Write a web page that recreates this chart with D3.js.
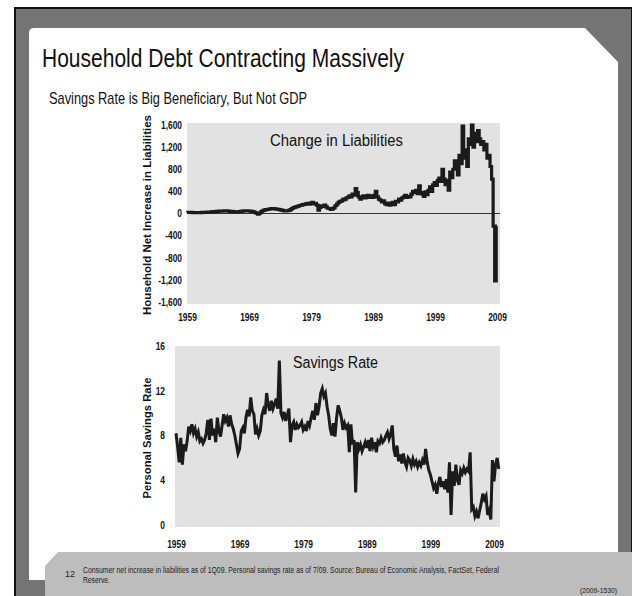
<!DOCTYPE html>
<html>
<head>
<meta charset="utf-8">
<script src="https://cdn.jsdelivr.net/npm/d3@7"></script>
<style>
  body { margin: 0; background: #fff; }
  svg { display: block; }
  text { font-family: "Liberation Sans Narrow", "Arial Narrow", "Liberation Sans", Arial, sans-serif; }
</style>
</head>
<body>
<svg id="chart" width="636" height="596"></svg>
<script>
// Quarterly household net increase in liabilities ($bn), 1959Q1 .. 2009Q1
const liabilities = [
  18, 20, 22, 19,   17, 16, 18, 15,   14, 16, 19, 21,   22, 24, 25, 27,   // 1959-62
  30, 34, 36, 38,   40, 42, 41, 44,   46, 45, 48, 44,   40, 38, 33, 30,   // 1963-66
  28, 30, 36, 40,   44, 46, 48, 47,   45, 43, 38, 30,   20, 8, -10, 5,    // 1967-70
  30, 50, 62, 70,   72, 80, 85, 88,   90, 84, 80, 75,   70, 62, 55, 48,   // 1971-74
  45, 50, 58, 70,   90, 105, 115, 125, 135, 145, 150, 160, 165, 175, 185, 170, // 1975-78
  190, 200, 175, 185, 150, 60, 110, 140, 130, 150, 120, 95, 90, 75, 85, 100,   // 1979-82
  140, 170, 200, 220, 230, 260, 250, 280, 290, 320, 300, 350, 330, 450, 380, 300, // 1983-86
  260, 300, 320, 280, 300, 330, 290, 320, 290, 330, 400, 300, 260, 240, 210, 230, // 1987-90
  180, 160, 190, 150, 170, 200, 160, 220, 210, 260, 240, 280, 300, 330, 290, 310, // 1991-94
  300, 350, 400, 380, 420, 360, 500, 380, 350, 310, 390, 340, 420, 480, 400, 520, // 1995-98
  560, 510, 600, 640, 580, 800, 620, 520, 600, 420, 750, 650, 800, 950, 880, 700, // 1999-02
  1050, 900, 1580, 1000, 1150, 850, 1350, 1250, 1600, 1200, 1450, 1300, 1500, 1350, 1250, 1300, // 2003-06
  1150, 1250, 1000, 1050, 850, 620, -230, -1220, // 2007-08
  -230 // 2009Q1
];

// Quarterly personal savings rate (%), 1959Q1 .. 2009Q4
const savingsRate = [
  8.2, 7.0, 5.6, 7.8,   5.4, 7.2, 6.6, 7.5,   8.8, 8.4, 9.0, 8.2,   8.6, 7.9, 8.3, 7.5,   // 1959-62
  7.7, 7.3, 7.6, 8.2,   9.4, 7.6, 9.5, 8.0,   8.6, 7.4, 9.6, 8.4,   7.9, 8.9, 9.9, 9.3,   // 1963-66
  9.6, 8.8, 9.8, 9.0,   8.6, 8.0, 7.2, 6.4,   6.8, 8.4, 8.7, 8.2,   9.6, 10.3, 9.7, 11.4, // 1967-70
  10.2, 9.9, 8.1, 8.6,  8.0, 8.4, 9.8, 10.3,  9.9, 11.8, 10.7, 10.2, 11.1, 10.4, 10.8, 11.3, // 1971-74
  10.4, 14.7, 10.0, 9.6, 10.1, 9.3, 9.8, 10.4, 7.4, 8.9, 9.2, 8.5,   9.0, 8.7, 8.9, 9.2,   // 1975-78
  8.5, 8.8, 8.4, 9.3,   8.9, 9.6, 10.2, 9.4,  10.9, 9.8, 10.6, 11.8, 12.2, 11.5, 11.8, 10.6, // 1979-82
  9.8, 8.6, 8.0, 9.1,   7.9, 9.6, 10.7, 10.2, 9.6, 8.5, 9.1, 8.7,   8.9, 6.5, 9.0, 7.2,   // 1983-86
  7.6, 2.9, 7.4, 6.8,   7.2, 6.6, 7.0, 7.4,   6.9, 7.6, 6.6, 7.8,   7.0, 7.4, 6.5, 7.5,   // 1987-90
  7.3, 7.8, 7.4, 7.6,   8.0, 8.3, 7.7, 8.1,   8.9, 6.8, 6.1, 7.1,   5.7, 6.3, 5.5, 6.4,   // 1991-94
  5.6, 5.2, 6.0, 5.8,   5.3, 5.9, 5.4, 5.7,   5.2, 5.6, 5.3, 5.8,   5.4, 6.8, 5.6, 4.9,   // 1995-98
  4.5, 3.9, 3.3, 3.6,   2.8, 3.7, 4.3, 3.4,   3.9, 3.2, 4.1, 2.9,   5.6, 0.9, 4.8, 3.5,   // 1999-02
  5.4, 4.0, 3.6, 4.9,   4.6, 5.1, 4.7, 5.0,   4.8, 6.5, 1.4, 1.6,   0.8, 1.2, 0.6, 1.3,   // 2003-06
  2.0, 2.8, 2.3, 2.6,   0.9, 1.3, 0.5, 5.8,   3.9, 5.4, 6.0, 5.0                          // 2007-09
];

const yearTicks = [1959, 1969, 1979, 1989, 1999, 2009];
const liabTicks = [-1600, -1200, -800, -400, 0, 400, 800, 1200, 1600];
const savingsTicks = [0, 4, 8, 12, 16];
const startYear = 1959;

const svg = d3.select('#chart');

// Slide frame
svg.append('rect').attr('x', 14).attr('y', 7).attr('width', 618).attr('height', 589).attr('fill', '#111');
svg.append('rect').attr('x', 16).attr('y', 9).attr('width', 615).attr('height', 587).attr('fill', '#747474');
svg.append('path')
  .attr('d', 'M29,33 Q29,28 34,28 L585,28 L618,62 L618,580 L29,580 Z')
  .attr('fill', '#fff');
svg.append('path')
  .attr('d', 'M45,566 L58,552 L632,552 L632,596 L45,596 Z')
  .attr('fill', '#bdbdbd');

// Titles
svg.append('text')
  .attr('x', 42).attr('y', 67)
  .attr('textLength', 362).attr('lengthAdjust', 'spacingAndGlyphs')
  .style('font-size', '25px').style('fill', '#111')
  .text('Household Debt Contracting Massively');
svg.append('text')
  .attr('x', 49).attr('y', 104)
  .attr('textLength', 258).attr('lengthAdjust', 'spacingAndGlyphs')
  .style('font-size', '17px').style('fill', '#111')
  .text('Savings Rate is Big Beneficiary, But Not GDP');

const fmt = d3.formatLocale({ decimal: '.', thousands: ',', grouping: [3], currency: ['$', ''], minus: '-' }).format(',');

function panel(opts) {
  const g = svg.append('g');
  const x = d3.scaleLinear().domain([1959, 2009]).range(opts.xRange);
  const y = d3.scaleLinear().domain(opts.yDomain).range(opts.yRange);

  g.append('rect')
    .attr('x', opts.box[0]).attr('y', opts.box[1])
    .attr('width', opts.box[2] - opts.box[0]).attr('height', opts.box[3] - opts.box[1])
    .attr('fill', '#e2e2e2');

  const yAxis = g.append('g')
    .attr('transform', `translate(${opts.box[0] - opts.yLabelGap},0)`)
    .call(d3.axisLeft(y).tickValues(opts.yTicks).tickSize(0).tickPadding(0).tickFormat(fmt));
  yAxis.select('.domain').remove();
  yAxis.selectAll('text')
    .attr('transform', 'scale(0.8,1)')
    .style('font-size', '10.5px').style('font-weight', 'bold').style('fill', '#111')
    .style('font-family', '"Liberation Sans Narrow", "Arial Narrow", "Liberation Sans", Arial, sans-serif');

  const xAxis = g.append('g')
    .attr('transform', `translate(0,${opts.xLabelY})`)
    .call(d3.axisBottom(x).tickValues(yearTicks).tickSize(0).tickPadding(0).tickFormat(d3.format('d')));
  xAxis.select('.domain').remove();
  xAxis.selectAll('text')
    .attr('transform', 'scale(0.8,1)')
    .style('font-size', '10.5px').style('font-weight', 'bold').style('fill', '#111')
    .style('font-family', '"Liberation Sans Narrow", "Arial Narrow", "Liberation Sans", Arial, sans-serif');

  if (opts.zeroLine) {
    g.append('line')
      .attr('x1', opts.box[0]).attr('x2', opts.box[2])
      .attr('y1', y(0)).attr('y2', y(0))
      .attr('stroke', '#333').attr('stroke-width', 1);
  }

  const line = d3.line()
    .x((d, i) => x(startYear + i / 4))
    .y(d => y(d))
    .curve(opts.curve);
  g.append('path')
    .datum(opts.data)
    .attr('d', line)
    .attr('fill', 'none')
    .attr('stroke', '#1b1b1b')
    .attr('stroke-width', opts.lineWidth)
    .attr('stroke-linejoin', 'miter');

  g.append('text')
    .attr('x', opts.title[1]).attr('y', opts.title[2])
    .attr('textLength', opts.title[3]).attr('lengthAdjust', 'spacingAndGlyphs')
    .style('font-size', '16px').style('fill', '#111')
    .text(opts.title[0]);

  g.append('text')
    .attr('transform', `translate(${opts.yTitle[1]},${opts.yTitle[2]}) rotate(-90)`)
    .attr('text-anchor', 'middle')
    .attr('textLength', opts.yTitle[3]).attr('lengthAdjust', 'spacingAndGlyphs')
    .style('font-size', '10.5px').style('font-weight', 'bold').style('fill', '#111')
    .text(opts.yTitle[0]);
}

panel({
  data: liabilities,
  box: [187, 123, 500, 304],
  xRange: [187, 497],
  yDomain: [-1600, 1600],
  yRange: [302, 125],
  yTicks: liabTicks,
  yLabelGap: 5,
  xLabelY: 314,
  zeroLine: true,
  curve: d3.curveStep,
  lineWidth: 3.2,
  title: ['Change in Liabilities', 270, 146, 133],
  yTitle: ['Household Net Increase in Liabilities', 151, 215, 200]
});

panel({
  data: savingsRate,
  box: [175, 346, 500, 527],
  xRange: [176, 494],
  yDomain: [0, 16],
  yRange: [525, 346],
  yTicks: savingsTicks,
  yLabelGap: 10,
  xLabelY: 541,
  zeroLine: false,
  curve: d3.curveLinear,
  lineWidth: 3,
  title: ['Savings Rate', 293, 368, 85],
  yTitle: ['Personal Savings Rate', 151, 438, 121]
});

// Footer
svg.append('text')
  .attr('x', 65).attr('y', 577)
  .style('font-size', '9px').style('fill', '#222')
  .text('12');
svg.append('text')
  .attr('x', 83).attr('y', 573)
  .attr('textLength', 416).attr('lengthAdjust', 'spacingAndGlyphs')
  .style('font-size', '8.5px').style('fill', '#222')
  .text('Consumer net increase in liabilities as of 1Q09. Personal savings rate as of 7/09. Source: Bureau of Economic Analysis, FactSet, Federal');
svg.append('text')
  .attr('x', 83).attr('y', 583)
  .attr('textLength', 27).attr('lengthAdjust', 'spacingAndGlyphs')
  .style('font-size', '8.5px').style('fill', '#222')
  .text('Reserve.');
svg.append('text')
  .attr('x', 617).attr('y', 593)
  .attr('text-anchor', 'end')
  .attr('textLength', 37).attr('lengthAdjust', 'spacingAndGlyphs')
  .style('font-size', '8px').style('fill', '#222')
  .text('(2009-1530)');
</script>
</body>
</html>
